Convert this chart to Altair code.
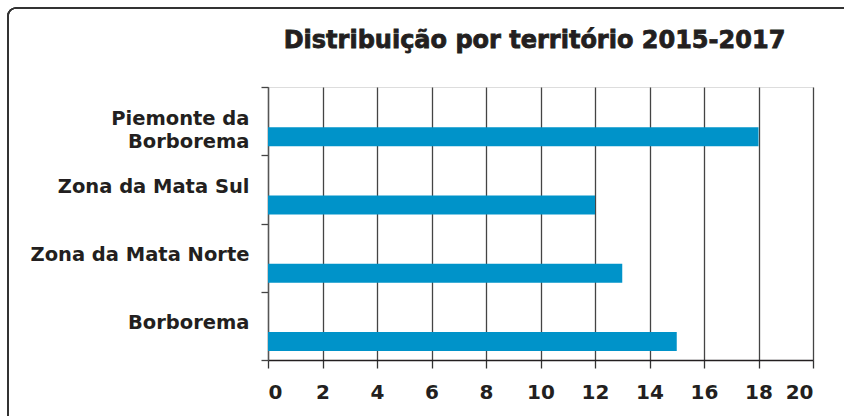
import altair as alt
import pandas as pd

title_text = ["Distribuição por território 2015-2017"]
categories = ["Piemonte da\nBorborema", "Zona da Mata Sul", "Zona da Mata Norte", "Borborema"]
values = [18, 12, 13, 15]
x_ticks = [0, 2, 4, 6, 8, 10, 12, 14, 16, 18, 20]

df = pd.DataFrame({"territorio": categories, "valor": values})
df_title = pd.DataFrame({"t": title_text})

W, H = 545, 273
TXT = "#231f20"

bars = alt.Chart(df).mark_bar(color="#0093c9", size=19, yOffset=15.5).encode(
    x=alt.X("valor:Q", scale=alt.Scale(domain=[0, 20], nice=False),
            axis=alt.Axis(values=x_ticks, grid=True, gridColor="#444444", gridWidth=1.3,
                          domainColor="#231f20", domainWidth=1.5,
                          tickColor="#333333", tickWidth=1.3, tickSize=8,
                          labelFont="DejaVu Sans", labelFontWeight="bold", labelFontSize=20,
                          labelColor=TXT, labelPadding=14, title=None)),
    y=alt.Y("territorio:N", sort=categories,
            scale=alt.Scale(paddingInner=0, paddingOuter=0),
            axis=alt.Axis(tickBand="extent", grid=False, domainColor="#555555", domainWidth=1.3,
                          tickColor="#444444", tickWidth=1.3, tickSize=7,
                          labelFont="DejaVu Sans", labelFontWeight="bold", labelFontSize=19.5,
                          labelColor=TXT, labelPadding=12, labelLineHeight=23, labelLimit=300,
                          labelOffset=-3,
                          labelExpr="split(datum.label, '\\n')", title=None)),
)

border = alt.Chart(df).mark_rect(filled=False, stroke="#333333", strokeWidth=1.5,
                                 cornerRadius=8).encode(
    x=alt.value(-260), x2=alt.value(W + 60), y=alt.value(-79), y2=alt.value(H + 80)
)

title = alt.Chart(df_title).mark_text(font="DejaVu Sans", fontSize=24, fontWeight="bold",
                                      color=TXT, stroke=TXT, strokeWidth=0.8,
                                      align="center", baseline="alphabetic").encode(
    text="t:N", x=alt.value(W / 2 - 6), y=alt.value(-39)
)

chart = alt.layer(border, bars, title).properties(
    width=W, height=H,
    autosize=alt.AutoSizeParams(type="none"),
    padding={"left": 268, "top": 87, "right": 31, "bottom": 56},
).configure_view(stroke=None).configure(background="white")

chart.save("out.html", embed_options={"renderer": "svg", "actions": False})
